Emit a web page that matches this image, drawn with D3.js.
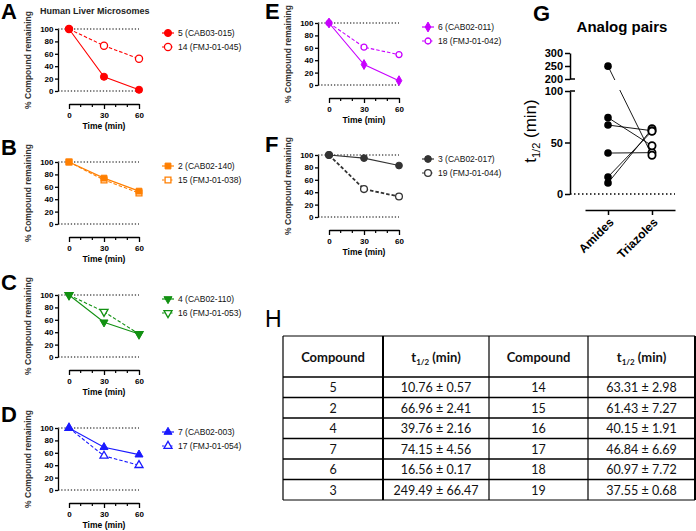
<!DOCTYPE html>
<html>
<head>
<meta charset="utf-8">
<script src="https://cdn.jsdelivr.net/npm/d3@7"></script>
<style>
body { margin: 0; background: #fff; }
svg { display: block; font-family: "Liberation Sans", Arial, sans-serif; }
</style>
</head>
<body>
<svg id="fig" width="696" height="531"></svg>
<script>
// ---- data ----
var times = [0, 30, 60];
var xTicks = [0, 30, 60];
var xMinorTicks = [10, 20, 40, 50];
var yTicks = [0, 20, 40, 60, 80, 100];
var panelLetters = ["A", "B", "C", "D", "E", "F"];
var amideNames = ["5 (CAB03-015)", "2 (CAB02-140)", "4 (CAB02-110)", "7 (CAB02-003)", "6 (CAB02-011)", "3 (CAB02-017)"];
var triazoleNames = ["14 (FMJ-01-045)", "15 (FMJ-01-038)", "16 (FMJ-01-053)", "17 (FMJ-01-054)", "18 (FMJ-01-042)", "19 (FMJ-01-044)"];
var amideRemaining = [[100, 23, 2], [100, 74, 53], [100, 56, 37], [100, 69, 57], [100, 33, 7], [100, 95, 83]];
var triazoleRemaining = [[100, 73, 52], [100, 71, 50], [100, 73, 37], [100, 55, 40], [100, 61, 49], [100, 45, 33]];
var panelColors = ["#ff0000", "#ff7f00", "#129112", "#1a1aff", "#c800ff", "#333333"];

var groups = ["Amides", "Triazoles"];
var amideCompounds = ["5", "2", "4", "7", "6", "3"];
var amideHalfLife = [10.76, 66.96, 39.76, 74.15, 16.56, 249.49];
var amideHalfLifeErr = [0.57, 2.41, 2.16, 4.56, 0.17, 66.47];
var triazoleCompounds = ["14", "15", "16", "17", "18", "19"];
var triazoleHalfLife = [63.31, 61.43, 40.15, 46.84, 60.97, 37.55];
var triazoleHalfLifeErr = [2.98, 7.27, 1.91, 6.69, 7.72, 0.68];
var gLowTicks = [0, 50, 100];
var gHighTicks = [200, 250, 300];

// ---- layout ----
var panelLayout = [
    {ax: 58, top: 29, lx: 1, ly: 19},
    {ax: 58, top: 162, lx: 1, ly: 155},
    {ax: 58, top: 295, lx: 1, ly: 290},
    {ax: 58, top: 428, lx: 1, ly: 422},
    {ax: 318, top: 23, lx: 265, ly: 19},
    {ax: 318, top: 155, lx: 265, ly: 152}
];
// filled / open marker shape and area for each panel
var symbolsFilled = [d3.symbolCircle, d3.symbolSquare, d3.symbolTriangle, d3.symbolTriangle, d3.symbolDiamond, d3.symbolCircle];
var symbolsOpen = [d3.symbolCircle, d3.symbolSquare, d3.symbolTriangle, d3.symbolTriangle, d3.symbolCircle, d3.symbolCircle];
var symbolSize = [40, 34, 28, 28, 28, 36];
var symbolRotate = [0, 0, 180, 0, 0, 0];

var svg = d3.select('#fig');
var tickFont = '"Liberation Sans Narrow", "Arial Narrow", "Liberation Sans", Arial, sans-serif';

function styleSmallAxis(sel) {
    sel.selectAll('path.domain').attr('stroke', '#000').attr('stroke-width', 1.3);
    sel.selectAll('.tick line').attr('stroke', '#000').attr('stroke-width', 1.3);
    sel.selectAll('.tick text').attr('font-family', tickFont).attr('font-weight', 'bold')
        .attr('font-size', 8).attr('fill', '#000');
}

function marker(g, idx, cx, cy, open, color) {
    var sym = d3.symbol().type(open ? symbolsOpen[idx] : symbolsFilled[idx]).size(symbolSize[idx]);
    g.append('path')
        .attr('d', sym())
        .attr('transform', 'translate(' + cx + ',' + cy + ') rotate(' + symbolRotate[idx] + ')')
        .attr('fill', open ? '#fff' : color)
        .attr('stroke', color)
        .attr('stroke-width', open ? 1.3 : 1);
}

function drawPanel(i) {
    var p = panelLayout[i],
        color = panelColors[i],
        g = svg.append('g').attr('class', 'panel panel-' + panelLetters[i]);
    var x = d3.scaleLinear().domain([0, 60]).range([p.ax + 11, p.ax + 81]);
    var y = d3.scaleLinear().domain([0, 100]).range([p.top + 62, p.top]);

    g.append('text').attr('x', p.lx).attr('y', p.ly).attr('font-size', 22).attr('font-weight', 'bold')
        .text(panelLetters[i]);

    // dotted reference lines at 0 and 100
    [0, 100].forEach(function(v) {
        g.append('line')
            .attr('x1', p.ax).attr('x2', x(60))
            .attr('y1', y(v)).attr('y2', y(v))
            .attr('stroke', '#000').attr('stroke-width', 1.2)
            .attr('stroke-dasharray', '1.3,1.9');
    });

    g.append('g').attr('transform', 'translate(' + p.ax + ',0)')
        .call(d3.axisLeft(y).tickValues(yTicks).tickSize(3).tickSizeOuter(0).tickPadding(1.5))
        .call(styleSmallAxis);

    var xa = g.append('g').attr('transform', 'translate(0,' + (y(0) + 13) + ')')
        .call(d3.axisBottom(x).tickValues(xTicks).tickSize(5).tickSizeOuter(0).tickPadding(3))
        .call(styleSmallAxis);
    xa.selectAll('line.minor').data(xMinorTicks).enter().append('line')
        .attr('class', 'minor')
        .attr('x1', function(d) { return x(d); }).attr('x2', function(d) { return x(d); })
        .attr('y1', 0).attr('y2', 3)
        .attr('stroke', '#000').attr('stroke-width', 1.2);

    g.append('text')
        .attr('x', (x(0) + x(60)) / 2).attr('y', y(0) + 38)
        .attr('text-anchor', 'middle').attr('font-weight', 'bold').attr('font-size', 8.5)
        .attr('font-family', tickFont)
        .text('Time (min)');

    g.append('text')
        .attr('transform', 'translate(' + (p.ax - 27) + ',' + (p.top + 31) + ') rotate(-90)')
        .attr('text-anchor', 'middle').attr('font-weight', 'bold').attr('font-size', 8.5)
        .attr('fill', '#333')
        .text('% Compound remaining');

    var line = d3.line()
        .x(function(d, j) { return x(times[j]); })
        .y(function(d) { return y(d); });

    var series = [
        {values: triazoleRemaining[i], open: true, name: triazoleNames[i]},
        {values: amideRemaining[i], open: false, name: amideNames[i]}
    ];
    series.forEach(function(s) {
        g.append('path').datum(s.values)
            .attr('d', line)
            .attr('fill', 'none')
            .attr('stroke', color)
            .attr('stroke-width', i === 5 && s.open ? 1.8 : 1.1)
            .attr('stroke-dasharray', s.open ? '3.5,2' : null);
        s.values.forEach(function(v, j) {
            marker(g, i, x(times[j]), y(v), s.open, color);
        });
    });

    // legend
    series.slice().reverse().forEach(function(s, k) {
        var ly = p.top + 4 + k * 14;
        g.append('line')
            .attr('x1', p.ax + 104).attr('x2', p.ax + 116)
            .attr('y1', ly).attr('y2', ly)
            .attr('stroke', color).attr('stroke-width', 1.2)
            .attr('stroke-dasharray', s.open ? '2.5,1.5' : null);
        marker(g, i, p.ax + 110, ly, s.open, color);
        g.append('text')
            .attr('x', p.ax + 120).attr('y', ly + 3)
            .attr('font-size', 8.5).attr('fill', '#111')
            .text(s.name);
    });
}

for (var i = 0; i < panelLetters.length; i++) {
    drawPanel(i);
}

svg.append('text').attr('x', 40).attr('y', 14).attr('font-size', 9).attr('font-weight', 'bold')
    .attr('fill', '#222').text('Human Liver Microsomes');

// ---- panel G ----
var gG = svg.append('g').attr('class', 'panel-G');
var gx = d3.scalePoint().domain(groups).range([585, 675]).padding(0.523);
var yLow = d3.scaleLinear().domain([0, 100]).range([194, 91]);
var yHigh = d3.scaleLinear().domain([200, 300]).range([79, 53]);
function yG(v) { return v > 150 ? yHigh(v) : yLow(v); }

gG.append('text').attr('x', 533).attr('y', 21).attr('font-size', 22).attr('font-weight', 'bold').text('G');
gG.append('text').attr('x', 622).attr('y', 32).attr('text-anchor', 'middle')
    .attr('font-size', 15).attr('font-weight', 'bold').text('Analog pairs');

function styleGAxis(sel) {
    sel.selectAll('path.domain').attr('stroke', '#000').attr('stroke-width', 1.5);
    sel.selectAll('.tick line').attr('stroke', '#000').attr('stroke-width', 1.5);
    sel.selectAll('.tick text').attr('font-weight', 'bold').attr('font-size', 11).attr('fill', '#000')
        .attr('font-family', '"Liberation Sans", Arial, sans-serif');
}
gG.append('line').attr('x1', 570).attr('x2', 675).attr('y1', yLow(0)).attr('y2', yLow(0))
    .attr('stroke', '#000').attr('stroke-width', 1.5).attr('stroke-dasharray', '1.5,2.5');
gG.append('g').attr('transform', 'translate(570,0)')
    .call(d3.axisLeft(yLow).tickValues(gLowTicks).tickSize(5).tickSizeOuter(0).tickPadding(2))
    .call(styleGAxis);
gG.append('g').attr('transform', 'translate(570,0)')
    .call(d3.axisLeft(yHigh).tickValues(gHighTicks).tickSize(5).tickSizeOuter(0).tickPadding(2))
    .call(styleGAxis);
// break stubs
[yHigh(200), yLow(100)].forEach(function(yy) {
    gG.append('line').attr('x1', 570).attr('x2', 575).attr('y1', yy).attr('y2', yy)
        .attr('stroke', '#000').attr('stroke-width', 1.5);
});

var gxa = gG.append('g').attr('transform', 'translate(0,210)')
    .call(d3.axisBottom(gx).tickSize(5).tickSizeOuter(0))
    .call(styleGAxis);
gxa.selectAll('.tick text')
    .attr('text-anchor', 'end').attr('font-size', 12)
    .attr('x', 0).attr('y', 0).attr('dy', 0)
    .attr('transform', 'translate(6,13) rotate(-45)');

gG.append('text')
    .attr('transform', 'translate(536,131) rotate(-90)')
    .attr('text-anchor', 'middle').attr('font-size', 17)
    .call(function(t) {
        t.append('tspan').text('t');
        t.append('tspan').attr('font-size', 11).attr('dy', 4).text('1/2');
        t.append('tspan').attr('dy', -4).text(' (min)');
    });

var clip = svg.append('defs').append('clipPath').attr('id', 'gbreak');
clip.append('rect').attr('x', 560).attr('y', 0).attr('width', 130).attr('height', 80);
clip.append('rect').attr('x', 560).attr('y', 90).attr('width', 130).attr('height', 130);

var pairs = d3.range(amideHalfLife.length);
gG.append('g').attr('clip-path', 'url(#gbreak)').selectAll('line.pair').data(pairs).enter().append('line')
    .attr('class', 'pair')
    .attr('x1', gx('Amides')).attr('x2', gx('Triazoles'))
    .attr('y1', function(d) { return yG(amideHalfLife[d]); })
    .attr('y2', function(d) { return yG(triazoleHalfLife[d]); })
    .attr('stroke', '#000').attr('stroke-width', 0.9);
gG.selectAll('circle.amide').data(amideHalfLife).enter().append('circle')
    .attr('class', 'amide')
    .attr('cx', gx('Amides')).attr('cy', function(d) { return yG(d); })
    .attr('r', 3.8).attr('fill', '#000');
gG.selectAll('circle.triazole').data(triazoleHalfLife).enter().append('circle')
    .attr('class', 'triazole')
    .attr('cx', gx('Triazoles')).attr('cy', function(d) { return yG(d); })
    .attr('r', 3.6).attr('fill', '#fff').attr('stroke', '#000').attr('stroke-width', 1.8);

// ---- panel H (table) ----
var gH = svg.append('g').attr('class', 'panel-H');
gH.append('text').attr('x', 265).attr('y', 327).attr('font-size', 23).text('H');

var colEdges = [283, 383, 489, 588, 695];
var headerTop = 336, headerBottom = 377;
var rowY = d3.scaleLinear().domain([0, amideCompounds.length]).range([headerBottom, 500]);
var tableFont = 'Lato, "Open Sans", "Liberation Sans", sans-serif';

function fmt(v, e) { return v.toFixed(2) + ' \u00b1 ' + e.toFixed(2); }
var rows = amideCompounds.map(function(c, k) {
    return [c, fmt(amideHalfLife[k], amideHalfLifeErr[k]), triazoleCompounds[k], fmt(triazoleHalfLife[k], triazoleHalfLifeErr[k])];
});

function colMid(c) { return (colEdges[c] + colEdges[c + 1]) / 2; }

// header
[0, 1, 2, 3].forEach(function(c) {
    var t = gH.append('text').attr('x', colMid(c)).attr('y', 362)
        .attr('text-anchor', 'middle').attr('font-family', tableFont).attr('font-size', 13)
        .attr('font-weight', 'bold').attr('fill', '#111');
    if (c % 2 === 0) {
        t.text('Compound');
    } else {
        t.append('tspan').text('t');
        t.append('tspan').attr('font-size', 8).attr('dy', 3).text('1/2');
        t.append('tspan').attr('dy', -3).text(' (min)');
    }
});
rows.forEach(function(r, k) {
    r.forEach(function(cell, c) {
        gH.append('text').attr('x', colMid(c)).attr('y', (rowY(k) + rowY(k + 1)) / 2 + 5)
            .attr('text-anchor', 'middle').attr('font-family', tableFont).attr('font-size', 12.5)
            .attr('fill', '#111')
            .text(cell);
    });
});

// grid lines
var hLines = [headerTop, headerBottom].concat(d3.range(1, rows.length + 1).map(function(k) { return rowY(k); }));
hLines.forEach(function(yy, k) {
    gH.append('line').attr('x1', colEdges[0]).attr('x2', colEdges[4]).attr('y1', yy).attr('y2', yy)
        .attr('stroke', '#000').attr('stroke-width', (k === 0 || k === hLines.length - 1) ? 1 : 1.6);
});
colEdges.forEach(function(xx, c) {
    gH.append('line').attr('x1', xx).attr('x2', xx).attr('y1', headerTop).attr('y2', rowY(rows.length))
        .attr('stroke', '#000').attr('stroke-width', (c === 1 || c === 4) ? 2 : 1.2);
});
</script>
</body>
</html>
